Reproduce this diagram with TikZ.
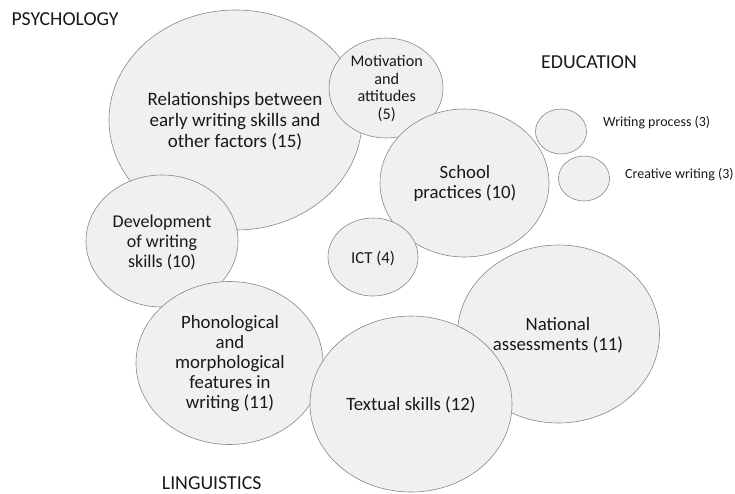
\documentclass[tikz,border=0pt]{standalone}
\usepackage{fontspec}
\setmainfont{Carlito}
\usetikzlibrary{shapes.geometric}
\definecolor{bubfill}{RGB}{240,240,240}
\definecolor{bubline}{RGB}{135,135,135}
\definecolor{txt}{RGB}{25,25,25}
\tikzset{
  bubble/.style={ellipse, draw=bubline, fill=bubfill, line width=0.6pt, inner sep=0pt},
  bubtext/.style={align=center, text=txt, inner sep=0pt, font=\fontsize{18.8}{20.5}\selectfont},
  cattext/.style={text=txt, inner sep=0pt, font=\fontsize{19.8}{21}\selectfont},
  smalltext/.style={text=txt, inner sep=0pt, anchor=west, font=\fontsize{14}{16}\selectfont},
}
\begin{document}
\begin{tikzpicture}[x=1pt,y=-1pt]
\useasboundingbox (0,0) rectangle (735,493);
% bubbles (drawing order matters)
\node[bubble, minimum width=253pt, minimum height=220pt] (rel) at (235.5,120) {};
\node[bubble, minimum width=114pt, minimum height=100pt] (mot) at (386,88) {};
\node[bubble, minimum width=169pt, minimum height=148pt] (sch) at (464.5,183) {};
\node[bubble, minimum width=90pt, minimum height=78pt] (ict) at (373,257) {};
\node[bubble, minimum width=51pt, minimum height=45pt] (wp) at (561,131.5) {};
\node[bubble, minimum width=51pt, minimum height=45pt] (cw) at (584,178.5) {};
\node[bubble, minimum width=152pt, minimum height=132pt] (dev) at (162,241) {};
\node[bubble, minimum width=187pt, minimum height=163pt] (pho) at (229.5,363) {};
\node[bubble, minimum width=202pt, minimum height=178pt] (nat) at (558.5,334) {};
\node[bubble, minimum width=202pt, minimum height=176pt] (tex) at (411,404) {};
% bubble texts
\node[bubtext, font=\fontsize{19}{21}\selectfont] (reltext) at (235,121) {Relationships between\\early writing skills and\\other factors (15)};
\node[bubtext, font=\fontsize{16.2}{17.7}\selectfont] (mottext) at (386.7,88.5) {Motivation\\and\\attitudes\\(5)};
\node[bubtext, font=\fontsize{18.8}{20}\selectfont] (schtext) at (465,183.3) {School\\practices (10)};
\node[bubtext, font=\fontsize{16.8}{18}\selectfont] (icttext) at (373,258.3) {ICT (4)};
\node[bubtext, font=\fontsize{18}{20}\selectfont] (devtext) at (162,242) {Development\\of writing\\skills (10)};
\node[bubtext, font=\fontsize{18.8}{20}\selectfont] (photext) at (230,363.5) {Phonological\\and\\morphological\\features in\\writing (11)};
\node[bubtext, font=\fontsize{18.8}{20}\selectfont] (nattext) at (558,335) {National\\assessments (11)};
\node[bubtext] (textext) at (411,405) {Textual skills (12)};
% side labels
\node[smalltext] (wptext) at (603,123) {Writing process (3)};
\node[smalltext] (cwtext) at (625,175) {Creative writing (3)};
% category labels
\node[cattext] (psy) at (65,19) {PSYCHOLOGY};
\node[cattext] (edu) at (589,62) {EDUCATION};
\node[cattext] (ling) at (211.7,483) {LINGUISTICS};
\end{tikzpicture}
\end{document}
